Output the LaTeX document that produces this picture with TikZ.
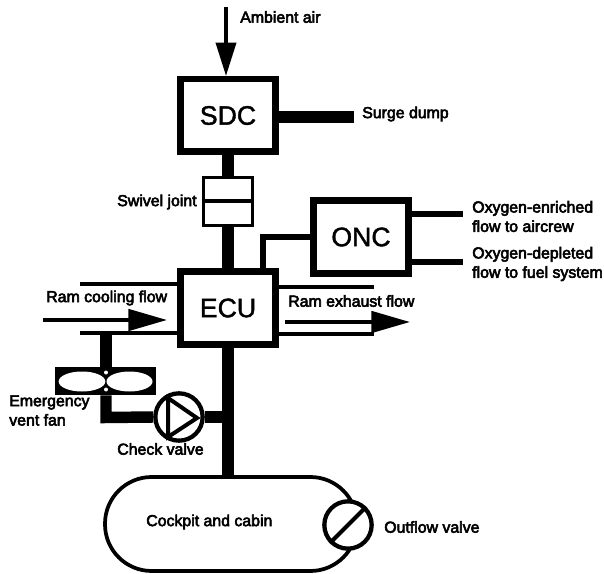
\documentclass[tikz,border=0pt]{standalone}
\usepackage{fontspec}
\setmainfont[FakeBold=1.5]{Liberation Sans}
\newfontfamily\tagfont[FakeBold=3.5]{Liberation Sans}
\usepackage{tikz}
\usetikzlibrary{calc}
\usetikzlibrary{shapes}
\usetikzlibrary{arrows.meta}

\tikzset{
    unit/.style={draw, line width=4.9pt, minimum width=71.6pt, minimum height=54.4pt, font=\fontsize{20}{20}\selectfont},
    tag/.style={anchor=west, inner sep=0pt, align=left, font=\tagfont\fontsize{11.9}{14.5}\selectfont},
    pipe/.style={line width=8.6pt},
    smallpipe/.style={line width=4.6pt},
    wall/.style={line width=2.8pt},
    flow/.style={line width=2.8pt, -{Triangle[length=29pt, width=16pt]}},
    roundvalve/.style={circle, draw, fill=white, line width=3.2pt, minimum size=35.5pt, inner sep=0pt}
}

\begin{document}
\begin{tikzpicture}[x=.75pt, y=-.75pt]
    \useasboundingbox (0, 0) rectangle (604, 574);

    % Main boxes
    \node[unit] (sdc) at (228, 115.5) {SDC};
    \node[unit] (ecu) at (228, 308) {ECU};
    \node[unit] (onc) at (361, 237) {ONC};

    % Swivel joint
    \node[draw, line width=2.6pt, minimum width=37pt, minimum height=36pt, inner sep=0pt] (swivel) at (228, 201.5) {};
    \draw[line width=3pt] (swivel.west) -- (swivel.east);

    % Cabin and valves
    \node[draw, line width=2.8pt, rounded corners=35pt, minimum width=189pt, minimum height=70.5pt] (cabin) at (231, 524) {};
    \node[roundvalve] (outflow) at (348, 525) {};
    \draw[line width=3pt] (outflow.225) -- (outflow.45);
    \node[roundvalve] (check) at (179, 417) {};
    \draw[line width=3pt, line join=miter] (168, 398) -- (197, 418) -- (168, 437) -- cycle;

    % Emergency fan
    \node[fill=black, minimum width=76pt, minimum height=21pt, inner sep=0pt] (fan) at (105.5, 381) {};
    \node[fill=white, ellipse, minimum width=35pt, minimum height=15pt, inner sep=0pt] (blade1) at (82, 381.5) {};
    \node[fill=white, ellipse, minimum width=34.5pt, minimum height=15pt, inner sep=0pt] (blade2) at (129.5, 381.5) {};
    \fill[white] (106, 372.5) circle (2);
    \fill[white] (106, 389.5) circle (2);

    % Named free ends
    \coordinate (airin) at (226, 7);
    \coordinate (surgeend) at (354, 117);
    \coordinate (oncdrop) at (263, 268);
    \coordinate (enrichedend) at (463, 214);
    \coordinate (depletedend) at (463, 262);
    \coordinate (ductleft) at (80, 333);
    \coordinate (ducttop) at (80, 284);
    \coordinate (exhausttop) at (374, 287);
    \coordinate (exhaustbot) at (374, 334);
    \coordinate (coolstart) at (43, 320);
    \coordinate (coolend) at (167, 320);
    \coordinate (exhstart) at (285, 322);
    \coordinate (exhend) at (410, 322);
    \coordinate (fantop) at (106, 333);
    \coordinate (fancorner) at (106, 417.5);

    % Pipes
    \draw[line width=2.8pt, -{Triangle[length=25pt, width=15pt]}] (airin) -- (airin |- sdc.north);
    \draw[pipe] (surgeend -| sdc.east) -- (surgeend);
    \draw[pipe] (sdc.south) -- (swivel.north);
    \draw[pipe] (swivel.south) -- (ecu.north);
    \draw[pipe] (ecu.south) -- (ecu.south |- cabin.north);
    \draw[smallpipe] (onc.west) -| (oncdrop);
    \draw[line width=5.2pt] (enrichedend -| onc.east) -- (enrichedend);
    \draw[line width=5.2pt] (depletedend -| onc.east) -- (depletedend);

    % Ram air ducts
    \draw[wall] (ducttop) -- (ducttop -| ecu.west);
    \draw[wall] (ductleft) -- (ductleft -| ecu.west);
    \draw[wall] (exhausttop -| ecu.east) -- (exhausttop);
    \draw[wall] (exhaustbot -| ecu.east) -- (exhaustbot);
    \draw[flow] (coolstart) -- (coolend);
    \draw[flow] (exhstart) -- (exhend);

    % Fan and check valve lines
    \draw[pipe] (fantop) -- (fantop |- fan.north);
    \draw[pipe, line join=miter] (fantop |- fan.south) -- (fancorner) -- (check.west);
    \draw[pipe] (check.east) -- (check.east -| ecu.south);

    % Labels
    \node[tag] (airlabel) at (240, 17) {Ambient air};
    \node[tag] (surgelabel) at (362, 114) {Surge dump};
    \node[tag] (swivellabel) at (117, 202) {Swivel joint};
    \node[tag] (enrichedlabel) at (472, 216.5) {Oxygen-enriched\\flow to aircrew};
    \node[tag] (depletedlabel) at (472, 264) {Oxygen-depleted\\flow to fuel system};
    \node[tag] (coollabel) at (46, 298) {Ram cooling flow};
    \node[tag] (exhlabel) at (288, 301) {Ram exhaust flow};
    \node[tag] (fanlabel) at (9, 410.5) {Emergency\\vent fan};
    \node[tag] (checklabel) at (117, 449) {Check valve};
    \node[tag] (cabinlabel) at (146, 522) {Cockpit and cabin};
    \node[tag] (outflowlabel) at (384, 527) {Outflow valve};
\end{tikzpicture}
\end{document}
